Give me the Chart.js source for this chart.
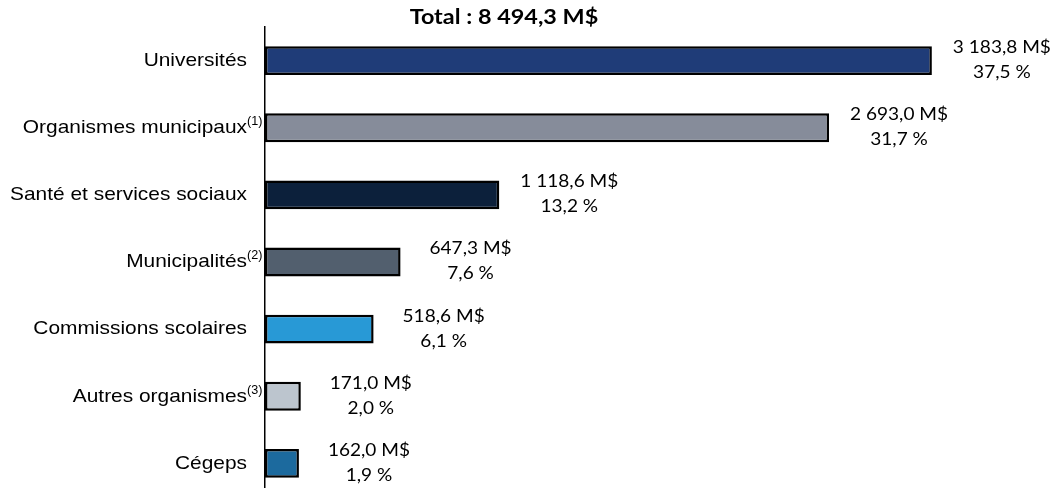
<!DOCTYPE html>
<html>
<head>
<meta charset="utf-8">
<script src="https://cdn.jsdelivr.net/npm/chart.js@4.4.1/dist/chart.umd.min.js"></script>
<style>
  html, body { margin: 0; padding: 0; background: #fff; overflow: hidden; }
  #wrap { position: relative; width: 1051px; height: 500px; }
</style>
</head>
<body>
<div id="wrap"><canvas id="chart" width="1051" height="500"></canvas></div>
<script>
// ── Data ──────────────────────────────────────────────────────────────────────
const categories = ['Universités', 'Organismes municipaux', 'Santé et services sociaux',
                    'Municipalités', 'Commissions scolaires', 'Autres organismes', 'Cégeps'];
const notes      = ['', '(1)', '', '(2)', '', '(3)', ''];
const amounts    = [3183.8, 2693.0, 1118.6, 647.3, 518.6, 171.0, 162.0];
const shares     = [37.5, 31.7, 13.2, 7.6, 6.1, 2.0, 1.9];
const barColors  = ['#1f3c78', '#868c9a', '#0c203b', '#525f6e', '#2899d6', '#bcc5ce', '#1c6a9e'];
const totalLabel = 'Total : 8 494,3 M$';

// ── Helpers ───────────────────────────────────────────────────────────────────
function frNum(v) {
  const [int, dec] = v.toFixed(1).split('.');
  return int.replace(/\B(?=(\d{3})+(?!\d))/g, ' ') + ',' + dec;
}

// the source picture is a little wider than tall, so text gets a horizontal stretch
function stretchText(ctx, text, x, y, align, sx) {
  ctx.save();
  ctx.translate(x, y);
  ctx.scale(sx, 1);
  ctx.textAlign = align;
  ctx.fillText(text, 0, 0);
  ctx.restore();
}

const annotations = {
  id: 'annotations',
  afterDatasetsDraw(chart) {
    const { ctx } = chart;
    const yScale = chart.scales.y;
    const meta = chart.getDatasetMeta(0);
    ctx.save();
    ctx.fillStyle = '#000';
    ctx.textBaseline = 'middle';

    // title
    ctx.font = 'bold 20px Lato';
    stretchText(ctx, totalLabel, 504, 18, 'center', 1.17);

    categories.forEach((name, i) => {
      const cy = yScale.getPixelForTick(i);
      // category label, footnote mark right after it
      ctx.font = '19px "Liberation Sans"';
      stretchText(ctx, name, 247, cy, 'right', 1.1);
      if (notes[i]) {
        ctx.font = '12px "Liberation Sans"';
        stretchText(ctx, notes[i], 247, cy - 6, 'left', 1.05);
      }
      // value label
      const end = meta.data[i].x;
      ctx.font = '17px Lato';
      stretchText(ctx, frNum(amounts[i]) + ' M$', end + 70, cy - 13, 'center', 1.12);
      stretchText(ctx, frNum(shares[i]) + ' %', end + 70, cy + 12, 'center', 1.12);
    });
    ctx.restore();
  }
};

new Chart(document.getElementById('chart'), {
  type: 'bar',
  data: {
    labels: categories,
    datasets: [{
      data: amounts,
      backgroundColor: barColors,
      borderColor: '#000',
      borderWidth: 2.5,
      borderSkipped: false,
      barPercentage: 0.43,
      categoryPercentage: 1
    }]
  },
  options: {
    indexAxis: 'y',
    responsive: false,
    animation: false,
    layout: { padding: { top: 27, bottom: 3, right: 11, left: 0 } },
    plugins: { legend: { display: false }, tooltip: { enabled: false }, title: { display: false } },
    scales: {
      x: { display: false, min: 0, max: 3700 },
      y: {
        grid: { display: false },
        ticks: { display: false },
        border: { display: true, color: '#000', width: 1.5 },
        afterFit: s => { s.width = 265; }
      }
    }
  },
  plugins: [annotations]
});
</script>
</body>
</html>
